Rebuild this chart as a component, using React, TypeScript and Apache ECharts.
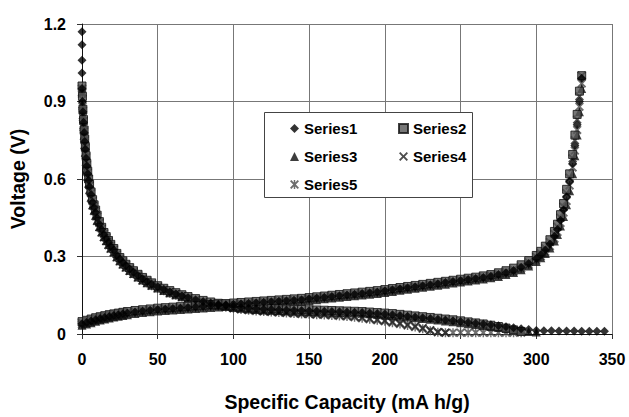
import React, { useEffect, useRef } from "react";
import * as echarts from "echarts";

const FONT = '"Liberation Sans", Arial, Helvetica, sans-serif';

const xTicks = { min: 0, max: 350, interval: 50 };
const yTicks = { min: 0, max: 1.2, interval: 0.3 };

const seriesNames = ["Series1", "Series2", "Series3", "Series4", "Series5"];

// first Series1 points stacked at x = 0
const series1Head = [1.17, 1.12, 1.06, 1.01];

const dischargeX = [
  0, 0.3, 0.6, 1, 1.4, 1.8, 2.2, 2.7, 3.2, 3.8,
  4.4, 5, 6, 7, 8, 9, 10, 11.5, 13, 14.5,
  16, 17.5, 19, 21, 23, 25, 27, 29, 31.5, 34,
  37, 40, 43, 46, 50, 54, 58, 62, 66, 70,
  75, 80, 85, 90, 95, 100,
  105, 110, 115, 120, 125, 130, 135, 140, 145, 150,
  155, 160, 165, 170, 175, 180, 185, 190, 195, 200,
  205, 210, 215, 220, 225, 230, 235, 240, 245, 250,
  255, 260, 265, 270, 275, 280, 285, 290, 295, 300,
  305, 310, 315, 320, 325, 330, 335, 340, 345,
];

const s1Discharge = [
  0.95, 0.9, 0.86, 0.82, 0.78, 0.745, 0.715, 0.68, 0.65, 0.62,
  0.595, 0.57, 0.54, 0.51, 0.49, 0.47, 0.45, 0.425, 0.405, 0.385,
  0.37, 0.355, 0.34, 0.325, 0.305, 0.29, 0.277, 0.265, 0.252, 0.24,
  0.226, 0.214, 0.203, 0.194, 0.183, 0.173, 0.164, 0.156, 0.148, 0.141,
  0.133, 0.126, 0.12, 0.115, 0.11, 0.106,
  0.103, 0.1, 0.098, 0.096, 0.095, 0.094, 0.093, 0.092, 0.091, 0.09,
  0.089, 0.088, 0.087, 0.086, 0.085, 0.084, 0.083, 0.081, 0.079, 0.077,
  0.075, 0.072, 0.069, 0.066, 0.063, 0.06, 0.057, 0.054, 0.051, 0.048,
  0.045, 0.042, 0.039, 0.036, 0.032, 0.028, 0.024, 0.02, 0.017, 0.014,
  0.013, 0.013, 0.012, 0.012, 0.012, 0.011, 0.011, 0.011, 0.011,
];

const s2Discharge = [
  0.96, 0.92, 0.87, 0.83, 0.79, 0.755, 0.725, 0.69, 0.66, 0.63,
  0.6, 0.58, 0.55, 0.52, 0.5, 0.48, 0.46, 0.435, 0.413, 0.393,
  0.377, 0.362, 0.347, 0.331, 0.312, 0.296, 0.283, 0.27, 0.257, 0.245,
  0.231, 0.219, 0.208, 0.198, 0.187, 0.177, 0.168, 0.16, 0.152, 0.145,
  0.137, 0.13, 0.124, 0.119, 0.114, 0.11,
  0.107, 0.104, 0.102, 0.1, 0.099, 0.098, 0.097, 0.096, 0.095, 0.094,
  0.093, 0.092, 0.091, 0.09, 0.089, 0.088, 0.087, 0.085, 0.083, 0.081,
  0.079, 0.076, 0.073, 0.07, 0.067, 0.064, 0.061, 0.058, 0.055, 0.051,
  0.047, 0.043, 0.039, 0.034, 0.029, 0.023, 0.016, 0.01,
];

const s3Discharge = [
  0.94, 0.89, 0.85, 0.81, 0.77, 0.735, 0.705, 0.67, 0.64, 0.61,
  0.585, 0.56, 0.53, 0.5, 0.48, 0.46, 0.44, 0.416, 0.396, 0.377,
  0.362, 0.347, 0.333, 0.318, 0.299, 0.284, 0.271, 0.259, 0.246, 0.234,
  0.221, 0.209, 0.198, 0.189, 0.178, 0.168, 0.16, 0.152, 0.144, 0.137,
  0.129, 0.122, 0.116, 0.111, 0.107, 0.103,
  0.1, 0.097, 0.095, 0.093, 0.092, 0.091, 0.09, 0.089, 0.088, 0.087,
  0.086, 0.085, 0.084, 0.083, 0.082, 0.081, 0.08, 0.078, 0.076, 0.074,
  0.072, 0.069, 0.066, 0.063, 0.06, 0.057, 0.054, 0.05, 0.047, 0.044,
  0.04, 0.037, 0.033, 0.029, 0.025, 0.021, 0.017, 0.013, 0.01, 0.008,
];

const s4Discharge = [
  0.95, 0.91, 0.865, 0.825, 0.785, 0.75, 0.72, 0.685, 0.655, 0.625,
  0.6, 0.575, 0.545, 0.515, 0.495, 0.475, 0.455, 0.43, 0.408, 0.388,
  0.373, 0.358, 0.343, 0.327, 0.308, 0.292, 0.279, 0.267, 0.254, 0.241,
  0.227, 0.215, 0.204, 0.194, 0.183, 0.172, 0.163, 0.155, 0.147, 0.14,
  0.132, 0.125, 0.118, 0.112, 0.107, 0.102,
  0.098, 0.095, 0.092, 0.089, 0.087, 0.085, 0.083, 0.081, 0.079, 0.078,
  0.077, 0.076, 0.075, 0.073, 0.071, 0.068, 0.064, 0.06, 0.056, 0.052,
  0.047, 0.042, 0.036, 0.03, 0.023, 0.015, 0.008, 0.005,
];

const s5Discharge = [
  0.93, 0.88, 0.84, 0.8, 0.765, 0.73, 0.7, 0.665, 0.635, 0.605,
  0.58, 0.555, 0.525, 0.497, 0.476, 0.456, 0.437, 0.413, 0.393, 0.374,
  0.359, 0.344, 0.33, 0.315, 0.297, 0.282, 0.269, 0.257, 0.244, 0.232,
  0.219, 0.207, 0.197, 0.187, 0.177, 0.167, 0.158, 0.15, 0.143, 0.136,
  0.128, 0.121, 0.115, 0.109, 0.104, 0.099,
  0.095, 0.092, 0.089, 0.087, 0.085, 0.083, 0.081, 0.079, 0.077, 0.076,
  0.075, 0.074, 0.072, 0.07, 0.068, 0.065, 0.061, 0.057, 0.053, 0.049,
  0.044, 0.039, 0.033, 0.027, 0.02, 0.013, 0.007, 0.005, 0.005, 0.005,
  0.005, 0.005, 0.005, 0.005, 0.005, 0.005, 0.005, 0.005,
];

const chargeX = [
  0, 3, 6, 9, 12, 15, 18, 21, 24, 27, 30,
  35, 40, 45, 50, 55, 60, 65, 70, 75, 80,
  85, 90, 95, 100, 105, 110, 115, 120, 125, 130,
  135, 140, 145, 150, 155, 160, 165, 170, 175, 180,
  185, 190, 195, 200, 205, 210, 215, 220, 225, 230,
  235, 240, 245, 250, 255, 260, 265, 270, 275, 280,
  285, 290, 295, 300,
  303, 306, 309, 312, 314, 316, 318, 320, 322, 324, 325.5, 327, 328.5, 330,
];

const s1Charge = [
  0.04, 0.045, 0.05, 0.055, 0.06, 0.064, 0.068, 0.072, 0.075, 0.078, 0.081,
  0.085, 0.089, 0.092, 0.095, 0.097, 0.099, 0.101, 0.103, 0.105, 0.107,
  0.109, 0.111, 0.113, 0.115, 0.117, 0.119, 0.121, 0.123, 0.125, 0.127,
  0.129, 0.131, 0.133, 0.136, 0.139, 0.142, 0.145, 0.148, 0.151, 0.154,
  0.157, 0.16, 0.163, 0.167, 0.171, 0.175, 0.179, 0.183, 0.187, 0.191,
  0.195, 0.199, 0.203, 0.207, 0.211, 0.215, 0.219, 0.224, 0.23, 0.237,
  0.246, 0.258, 0.273, 0.292,
  0.307, 0.325, 0.348, 0.378, 0.405, 0.44, 0.48, 0.53, 0.59, 0.66, 0.73, 0.81, 0.9, 0.99,
];

const s2Charge = [
  0.048, 0.053, 0.058, 0.063, 0.067, 0.071, 0.075, 0.078, 0.081, 0.084, 0.087,
  0.091, 0.094, 0.097, 0.1, 0.102, 0.104, 0.106, 0.108, 0.11, 0.112,
  0.114, 0.116, 0.118, 0.12, 0.122, 0.124, 0.126, 0.128, 0.13, 0.132,
  0.134, 0.136, 0.138, 0.141, 0.144, 0.147, 0.15, 0.153, 0.156, 0.159,
  0.162, 0.165, 0.168, 0.172, 0.176, 0.18, 0.184, 0.188, 0.192, 0.196,
  0.2, 0.204, 0.208, 0.212, 0.216, 0.22, 0.225, 0.23, 0.237, 0.245,
  0.255, 0.268, 0.284, 0.304,
  0.32, 0.34, 0.365, 0.397, 0.425, 0.462, 0.505, 0.56, 0.62, 0.695, 0.77, 0.85, 0.94, 1.0,
];

const s3Charge = [
  0.034, 0.039, 0.044, 0.049, 0.054, 0.058, 0.062, 0.066, 0.069, 0.072, 0.075,
  0.079, 0.083, 0.086, 0.089, 0.091, 0.093, 0.095, 0.097, 0.099, 0.101,
  0.103, 0.105, 0.107, 0.109, 0.111, 0.113, 0.115, 0.117, 0.119, 0.121,
  0.123, 0.125, 0.127, 0.13, 0.133, 0.136, 0.139, 0.142, 0.145, 0.148,
  0.151, 0.154, 0.157, 0.161, 0.165, 0.169, 0.173, 0.177, 0.181, 0.185,
  0.189, 0.193, 0.197, 0.201, 0.205, 0.209, 0.213, 0.218, 0.223, 0.23,
  0.238, 0.249, 0.263, 0.281,
  0.295, 0.312, 0.333, 0.36, 0.385, 0.418, 0.455, 0.5, 0.555, 0.62, 0.69, 0.77, 0.86, 0.95,
];

const s4Charge = [
  0.044, 0.049, 0.054, 0.059, 0.063, 0.067, 0.071, 0.075, 0.078, 0.081, 0.084,
  0.088, 0.091, 0.094, 0.097, 0.099, 0.101, 0.103, 0.105, 0.107, 0.109,
  0.111, 0.113, 0.115, 0.117, 0.119, 0.121, 0.123, 0.125, 0.127, 0.129,
  0.131, 0.133, 0.135, 0.138, 0.141, 0.144, 0.147, 0.15, 0.153, 0.156,
  0.159, 0.162, 0.165, 0.169, 0.173, 0.177, 0.181, 0.185, 0.189, 0.193,
  0.197, 0.201, 0.205, 0.209, 0.213, 0.217, 0.222, 0.227, 0.233, 0.241,
  0.25, 0.262, 0.278, 0.298,
  0.313, 0.332, 0.356, 0.387, 0.415, 0.45, 0.493, 0.545, 0.605, 0.68, 0.75, 0.83, 0.92, 1.0,
];

const s5Charge = [
  0.037, 0.042, 0.047, 0.052, 0.057, 0.061, 0.065, 0.069, 0.072, 0.075, 0.078,
  0.082, 0.086, 0.089, 0.092, 0.094, 0.096, 0.098, 0.1, 0.102, 0.104,
  0.106, 0.108, 0.11, 0.112, 0.114, 0.116, 0.118, 0.12, 0.122, 0.124,
  0.126, 0.128, 0.13, 0.133, 0.136, 0.139, 0.142, 0.145, 0.148, 0.151,
  0.154, 0.157, 0.16, 0.164, 0.168, 0.172, 0.176, 0.18, 0.184, 0.188,
  0.192, 0.196, 0.2, 0.204, 0.208, 0.212, 0.216, 0.221, 0.227, 0.234,
  0.242, 0.254, 0.268, 0.287,
  0.301, 0.318, 0.34, 0.369, 0.395, 0.43, 0.47, 0.515, 0.575, 0.645, 0.71, 0.79, 0.88, 0.97,
];

const X_SYMBOL =
  "path://M0,1.5 L1.5,0 L5,3.5 L8.5,0 L10,1.5 L6.5,5 L10,8.5 L8.5,10 L5,6.5 L1.5,10 L0,8.5 L3.5,5 Z";
const STAR_SYMBOL =
  "path://M0,1.5 L1.5,0 L5,3.5 L8.5,0 L10,1.5 L6.5,5 L10,8.5 L8.5,10 L5,6.5 L1.5,10 L0,8.5 L3.5,5 Z M4.2,0 L5.8,0 L5.8,10 L4.2,10 Z";

function pairs(xs: number[], ys: number[]): number[][] {
  return ys.map((y, i) => [xs[i], y]);
}

export default function App() {
  const ref = useRef<HTMLDivElement>(null);

  useEffect(() => {
    if (!ref.current) return;
    const chart = echarts.init(ref.current, null, { renderer: "svg" });

    const s1 = [
      ...series1Head.map((y) => [0, y]),
      ...pairs(dischargeX, s1Discharge),
      ...pairs(chargeX, s1Charge),
    ];
    const s2 = [...pairs(dischargeX, s2Discharge), ...pairs(chargeX, s2Charge)];
    const s3 = [...pairs(dischargeX, s3Discharge), ...pairs(chargeX, s3Charge)];
    const s4 = [...pairs(dischargeX, s4Discharge), ...pairs(chargeX, s4Charge)];
    const s5 = [...pairs(dischargeX, s5Discharge), ...pairs(chargeX, s5Charge)];

    const labelStyle = {
      color: "#000",
      fontFamily: FONT,
      fontWeight: "bold" as const,
      fontSize: 16,
    };

    const legendText = {
      color: "#000",
      fontFamily: FONT,
      fontWeight: "bold" as const,
      fontSize: 15,
    };

    chart.setOption({
      animation: false,
      backgroundColor: "#fff",
      grid: { left: 79, right: 17, top: 24, bottom: 68, containLabel: false },
      xAxis: {
        type: "value",
        min: xTicks.min,
        max: xTicks.max,
        interval: xTicks.interval,
        name: "Specific Capacity (mA h/g)",
        nameLocation: "middle",
        nameGap: 58,
        nameTextStyle: { ...labelStyle, fontSize: 19.5 },
        axisLine: { show: true, onZero: false, lineStyle: { color: "#111", width: 1 } },
        axisTick: { show: true, length: 5, lineStyle: { color: "#333" } },
        axisLabel: { ...labelStyle, margin: 17 },
        splitLine: { show: true, lineStyle: { color: "#777", width: 1 } },
      },
      yAxis: {
        type: "value",
        min: yTicks.min,
        max: yTicks.max,
        interval: yTicks.interval,
        name: "Voltage (V)",
        nameLocation: "middle",
        nameGap: 54,
        nameRotate: 90,
        nameTextStyle: { ...labelStyle, fontSize: 19.5 },
        axisLine: { show: true, onZero: false, lineStyle: { color: "#111", width: 1 } },
        axisTick: { show: true, length: 5, lineStyle: { color: "#333" } },
        axisLabel: { ...labelStyle, margin: 16 },
        splitLine: { show: true, lineStyle: { color: "#777", width: 1 } },
      },
      legend: [
        {
          orient: "vertical",
          left: 285,
          top: 116,
          itemWidth: 9,
          itemHeight: 9,
          itemGap: 13,
          data: ["Series1", "Series3", "Series5"],
          textStyle: legendText,
          z: 5,
        },
        {
          orient: "vertical",
          left: 393,
          top: 116,
          itemWidth: 9,
          itemHeight: 9,
          itemGap: 13,
          data: ["Series2", "Series4"],
          textStyle: legendText,
          z: 5,
        },
      ],
      graphic: [
        {
          type: "rect",
          z: 4,
          shape: { x: 264.5, y: 112.5, width: 208, height: 85 },
          style: { fill: "#fff", stroke: "#444", lineWidth: 1 },
        },
      ],
      series: [
        {
          name: seriesNames[4],
          type: "scatter",
          symbol: STAR_SYMBOL,
          symbolSize: 9,
          itemStyle: { color: "#4a4a4a" },
          data: s5,
        },
        {
          name: seriesNames[3],
          type: "scatter",
          symbol: X_SYMBOL,
          symbolSize: 9,
          itemStyle: { color: "#222" },
          data: s4,
        },
        {
          name: seriesNames[2],
          type: "scatter",
          symbol: "triangle",
          symbolSize: 9,
          itemStyle: { color: "#0d0d0d" },
          data: s3,
        },
        {
          name: seriesNames[1],
          type: "scatter",
          symbol: "rect",
          symbolSize: 8,
          itemStyle: { color: "#555", borderColor: "#111", borderWidth: 1 },
          data: s2,
        },
        {
          name: seriesNames[0],
          type: "scatter",
          symbol: "diamond",
          symbolSize: 9,
          itemStyle: { color: "#000" },
          data: s1,
        },
      ],
    });

    return () => {
      chart.dispose();
    };
  }, []);

  return (
    <div
      ref={ref}
      style={{ position: "fixed", left: 0, top: 0, width: 629, height: 417, background: "#fff" }}
    />
  );
}
